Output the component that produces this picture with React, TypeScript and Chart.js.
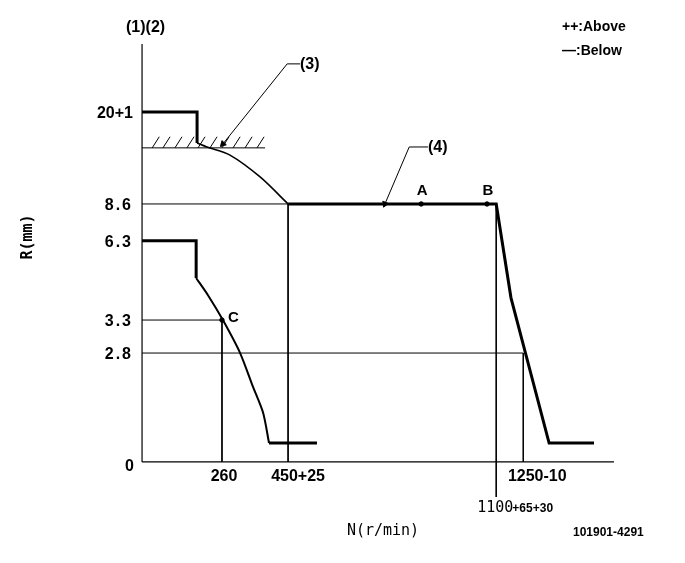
import React, { useEffect, useRef } from "react";
import { Chart, registerables } from "chart.js";

Chart.register(...registerables);

// Schematic diagram units: x ~ pump speed N (r/min, not to scale), y ~ rack position (schematic height units)
const X_MIN = -462;
const X_MAX = 1766;
const Y_MIN = -3.37;
const Y_MAX = 15.4;

// Y tick positions (schematic) and labels (mm)
const yTickPos = [11.67, 8.6, 7.37, 4.73, 3.63, 0];
const yTickLabels = ["20+1", "8.6", "6.3", "3.3", "2.8", "0"];

// X tick positions and labels (r/min)
const xTickPos = [260, 475, 1240];
const xTickLabels = ["260", "450+25", "1250-10"];
const xTickLowPos = 1152;
const xTickLowMain = "1100";
const xTickLowSuffix = "+65+30";

// Axes
const axisY = [{ x: 0, y: 0 }, { x: 0, y: 13.93 }];
const axisX = [{ x: 0, y: 0 }, { x: 1535, y: 0 }];

// Upper full-load step and governor curve (3)
const upperStepX = [0, 179, 179];
const upperStepY = [11.67, 11.67, 10.63];
const upperCurveX = [179, 211, 286, 384, 475];
const upperCurveY = [10.63, 10.5, 10.23, 9.5, 8.6];

// Plateau (4) and high-speed droop
const plateauX = [475, 1152, 1200, 1324, 1470];
const plateauY = [8.6, 8.6, 5.47, 0.63, 0.63];

// Lower idle step and curve
const lowerStepX = [0, 176, 176];
const lowerStepY = [7.37, 7.37, 6.13];
const lowerCurveX = [176, 215, 263, 319, 361, 394, 413];
const lowerCurveY = [6.13, 5.55, 4.73, 3.63, 2.5, 1.63, 0.63];
const lowerFlatX = [413, 569];
const lowerFlatY = [0.63, 0.63];

// Stop line with hatching
const hatchLineX = [0, 400];
const hatchLineY = [10.47, 10.47];
const hatchStartX = [33, 68, 107, 146, 182, 221, 260, 296, 335, 374];
const hatchBaseY = 10.47;
const hatchTopY = 10.84;
const hatchDX = 23;

// Thin reference lines [x1, y1, x2, y2]
const refLines: number[][] = [
  [0, 8.6, 475, 8.6],
  [475, 8.6, 475, 0],
  [0, 4.73, 260, 4.73],
  [260, 4.73, 260, 0],
  [0, 3.63, 1240, 3.63],
  [1240, 3.63, 1240, 0],
  [1152, 8.6, 1152, -1.17],
];

// Measuring points
const pointNames = ["A", "B", "C"];
const pointX = [908, 1122, 260];
const pointY = [8.6, 8.6, 4.73];

// Leader lines for (3) and (4)
const leader3X = [514, 472, 263];
const leader3Y = [13.27, 13.27, 10.6];
const leader4X = [930, 869, 790];
const leader4Y = [10.5, 10.5, 8.6];

const zip = (xs: number[], ys: number[]) => xs.map((x, i) => ({ x, y: ys[i] }));

const BOLD = "bold 16px 'Liberation Sans', Arial, sans-serif";

export default function App() {
  const ref = useRef<HTMLCanvasElement | null>(null);

  useEffect(() => {
    if (!ref.current) return;
    const line = (data: any[], width: number, extra: any = {}) => ({
      data,
      showLine: true,
      borderColor: "#000",
      backgroundColor: "#000",
      borderWidth: width,
      pointRadius: 0,
      tension: 0,
      fill: false,
      clip: false,
      ...extra,
    });

    const datasets: any[] = [];
    datasets.push(line(axisY, 1.2));
    datasets.push(line(axisX, 1.2));
    refLines.forEach((l) => datasets.push(line([{ x: l[0], y: l[1] }, { x: l[2], y: l[3] }], 1)));
    datasets.push(line(zip(hatchLineX, hatchLineY), 1));
    hatchStartX.forEach((s) =>
      datasets.push(line([{ x: s, y: hatchBaseY }, { x: s + hatchDX, y: hatchTopY }], 1))
    );
    datasets.push(line(zip(upperStepX, upperStepY), 3));
    datasets.push(line(zip(upperCurveX, upperCurveY), 1.6, { tension: 0.3 }));
    datasets.push(line(zip(plateauX, plateauY), 3));
    datasets.push(line(zip(lowerStepX, lowerStepY), 3));
    datasets.push(line(zip(lowerCurveX, lowerCurveY), 2, { tension: 0.25 }));
    datasets.push(line(zip(lowerFlatX, lowerFlatY), 3));
    datasets.push(
      line(zip(leader3X, leader3Y), 1, {
        pointRadius: [0, 0, 3.5],
        pointStyle: "triangle",
        pointRotation: [0, 0, 224],
      })
    );
    datasets.push(
      line(zip(leader4X, leader4Y), 1, {
        pointRadius: [0, 0, 3.5],
        pointStyle: "triangle",
        pointRotation: [0, 0, 203],
      })
    );
    datasets.push({
      data: zip(pointX, pointY),
      showLine: false,
      pointRadius: 2.2,
      backgroundColor: "#000",
      borderColor: "#000",
      clip: false,
    });

    const textPlugin = {
      id: "texts",
      afterDatasetsDraw(chart: any) {
        const ctx = chart.ctx;
        const xs = chart.scales.x;
        const ys = chart.scales.y;
        ctx.save();
        ctx.fillStyle = "#000";
        // Y tick labels
        ctx.font = BOLD;
        ctx.textAlign = "right";
        ctx.textBaseline = "middle";
        yTickPos.forEach((v, i) => {
          const py = ys.getPixelForValue(v);
          if (yTickLabels[i] === "0") {
            ctx.fillText(yTickLabels[i], 136, py + 5);
          } else {
            (ctx as any).letterSpacing = yTickLabels[i].includes(".") ? "2px" : "0px";
            ctx.fillText(yTickLabels[i], 133, py + 2);
          }
        });
        (ctx as any).letterSpacing = "0px";
        // X tick labels
        ctx.textAlign = "center";
        xTickPos.forEach((v, i) => {
          const px = xs.getPixelForValue(v);
          const off = i === 0 ? 2 : i === 1 ? 10 : 14;
          ctx.fillText(xTickLabels[i], px + off, 477);
        });
        // lower x label
        const lx = xs.getPixelForValue(xTickLowPos);
        ctx.textAlign = "left";
        ctx.font = "15px 'DejaVu Sans Mono', monospace";
        const mainW = ctx.measureText(xTickLowMain).width;
        ctx.fillText(xTickLowMain, lx - 19, 508);
        ctx.font = "bold 12px 'Liberation Sans', Arial, sans-serif";
        ctx.fillText(xTickLowSuffix, lx - 19 + mainW - 1, 509);
        // Axis titles
        ctx.font = "15px 'DejaVu Sans Mono', monospace";
        ctx.textAlign = "center";
        ctx.fillText("N(r/min)", 383, 531);
        ctx.save();
        ctx.translate(28, 237);
        ctx.rotate(-Math.PI / 2);
        ctx.font = "bold 15px 'DejaVu Sans Mono', monospace";
        ctx.fillText("R(mm)", 0, 0);
        ctx.restore();
        // Annotations
        ctx.font = BOLD;
        ctx.textAlign = "left";
        ctx.fillText("(1)(2)", 126, 28);
        ctx.fillText("(3)", 300, 65);
        ctx.fillText("(4)", 428, 148);
        ctx.font = "bold 14px 'Liberation Sans', Arial, sans-serif";
        ctx.fillText("++:Above", 562, 27);
        ctx.fillText("\u2014:Below", 562, 51);
        ctx.font = "bold 12px 'Liberation Sans', Arial, sans-serif";
        ctx.fillText("101901-4291", 573, 533);
        // Point labels
        ctx.font = "bold 15px 'Liberation Sans', Arial, sans-serif";
        pointNames.forEach((n, i) => {
          const px = xs.getPixelForValue(pointX[i]);
          const py = ys.getPixelForValue(pointY[i]);
          if (n === "C") {
            ctx.textAlign = "left";
            ctx.fillText(n, px + 6, py - 2);
          } else {
            ctx.textAlign = "center";
            ctx.fillText(n, px + 1, py - 13);
          }
        });
        ctx.restore();
      },
    };

    const chart = new Chart(ref.current, {
      type: "scatter",
      data: { datasets },
      options: {
        animation: false,
        responsive: false,
        maintainAspectRatio: false,
        layout: { padding: 0, autoPadding: false },
        plugins: { legend: { display: false }, tooltip: { enabled: false } },
        scales: {
          x: { type: "linear", display: false, min: X_MIN, max: X_MAX },
          y: { type: "linear", display: false, min: Y_MIN, max: Y_MAX },
        },
        elements: { line: { borderCapStyle: "butt", borderJoinStyle: "miter" } },
      },
      plugins: [textPlugin],
    });
    return () => chart.destroy();
  }, []);

  return (
    <div style={{ position: "fixed", left: 0, top: 0, width: 685, height: 563, background: "#fff" }}>
      <canvas ref={ref} width={685} height={563} style={{ width: 685, height: 563 }} />
    </div>
  );
}
